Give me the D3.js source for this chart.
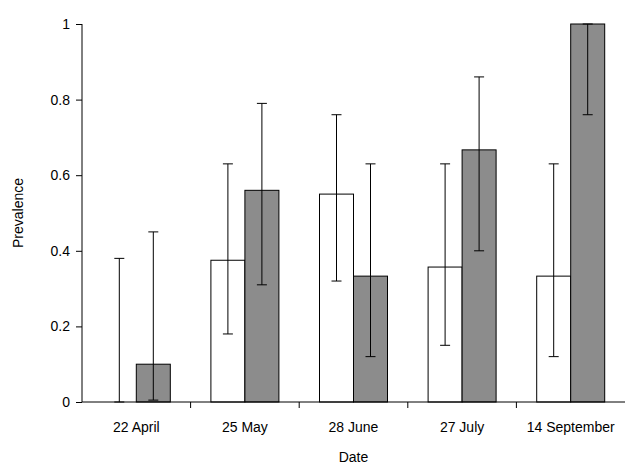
<!DOCTYPE html>
<html><head><meta charset="utf-8">
<script src="https://cdn.jsdelivr.net/npm/d3@7"></script>
<style>body{margin:0;background:#fff}text{font-family:Arial,"Liberation Sans",sans-serif}</style>
</head><body><svg id="chart" width="627" height="466"></svg>
<script>
// Prevalence by sampling date, two groups
var dates = ["22 April", "25 May", "28 June", "27 July", "14 September"];
var whiteVals = [0, 0.375, 0.55, 0.357, 0.333];
var whiteLow = [0, 0.18, 0.32, 0.15, 0.12];
var whiteHigh = [0.38, 0.63, 0.76, 0.63, 0.63];
var greyVals = [0.1, 0.56, 0.333, 0.667, 1.0];
var greyLow = [0.005, 0.31, 0.12, 0.40, 0.76];
var greyHigh = [0.45, 0.79, 0.63, 0.86, 1.0];
var yTicks = [0, 0.2, 0.4, 0.6, 0.8, 1];

var svg = d3.select("#chart");
var plotL = 82, plotR = 625, plotT = 24, plotB = 402;

var x = d3.scaleBand().domain(dates).range([plotL, plotR]);
var y = d3.scaleLinear().domain([0, 1]).range([plotB, plotT]);
var barW = 34;

var series = [
  {vals: whiteVals, lo: whiteLow, hi: whiteHigh, fill: "#fff", off: -barW},
  {vals: greyVals, lo: greyLow, hi: greyHigh, fill: "#8c8c8c", off: 0}
];

series.forEach(function(s) {
  var g = svg.append("g");
  dates.forEach(function(d, i) {
    var cx = x(d) + x.bandwidth() / 2 + s.off;
    if (s.vals[i] > 0) {
      g.append("rect").attr("x", cx).attr("y", y(s.vals[i]))
        .attr("width", barW).attr("height", y(0) - y(s.vals[i]))
        .attr("fill", s.fill).attr("stroke", "#000").attr("stroke-width", 1);
    }
    var mx = cx + barW / 2;
    g.append("line").attr("x1", mx).attr("x2", mx)
      .attr("y1", y(s.lo[i])).attr("y2", y(s.hi[i])).attr("stroke", "#000");
    [s.lo[i], s.hi[i]].forEach(function(v) {
      g.append("line").attr("x1", mx - 5).attr("x2", mx + 5)
        .attr("y1", y(v)).attr("y2", y(v)).attr("stroke", "#000");
    });
  });
});

// y axis
var ya = svg.append("g").attr("transform", "translate(" + plotL + ",0)")
  .call(d3.axisLeft(y).tickValues(yTicks).tickSize(6).tickPadding(6).tickFormat(d3.format("")));
ya.selectAll("text").attr("font-size", 14).attr("fill", "#000");
ya.select(".domain").attr("d", "M0," + plotT + "V" + plotB);

// x axis
var xa = svg.append("g").attr("transform", "translate(0," + plotB + ")");
xa.append("line").attr("x1", plotL).attr("x2", plotR).attr("stroke", "#000");
dates.forEach(function(d, i) {
  if (i > 0) xa.append("line").attr("x1", x(d)).attr("x2", x(d)).attr("y1", 0).attr("y2", 6).attr("stroke", "#000");
  xa.append("text").attr("x", x(d) + x.bandwidth() / 2).attr("y", 30)
    .attr("text-anchor", "middle").attr("font-size", 14).text(d);
});

svg.append("text").attr("x", (plotL + plotR) / 2).attr("y", 462)
  .attr("text-anchor", "middle").attr("font-size", 14).text("Date");
svg.append("text").attr("transform", "translate(23," + (plotT + plotB) / 2 + ") rotate(-90)")
  .attr("text-anchor", "middle").attr("font-size", 14).text("Prevalence");
</script></body></html>
